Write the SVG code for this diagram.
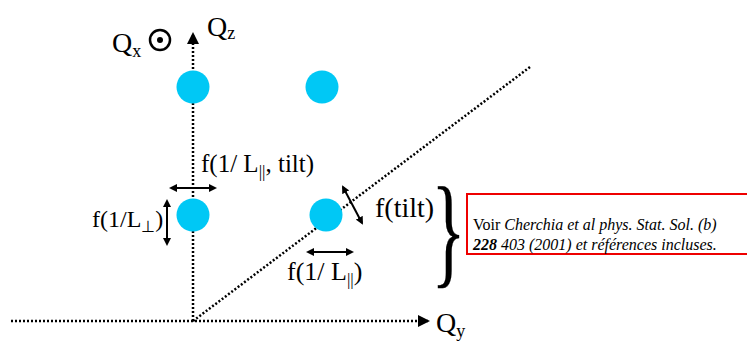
<svg xmlns="http://www.w3.org/2000/svg" width="747" height="341" viewBox="0 0 747 341">
<style>
.ax{stroke:#000;stroke-width:2.5;stroke-dasharray:2 2;fill:none}
.dot{fill:#00c8f5}
.t{font-family:"Liberation Serif","Times New Roman",serif;fill:#000}
.arr{stroke:#000;stroke-width:2;fill:none;marker-start:url(#ah);marker-end:url(#ah)}
</style>
<defs>
<marker id="ah" markerWidth="8" markerHeight="8" refX="6" refY="4" orient="auto-start-reverse" markerUnits="userSpaceOnUse"><path d="M0,0 L8,4 L0,8 z" fill="#000"/></marker>
<marker id="axh" markerWidth="12" markerHeight="12" refX="10" refY="6" orient="auto" markerUnits="userSpaceOnUse"><path d="M0,0 L12,6 L0,12 z" fill="#000"/></marker>
</defs>
<rect width="747" height="341" fill="#fff"/>
<g id="connectors">
<line class="ax" x1="193" y1="321" x2="193" y2="34" marker-end="url(#axh)"/>
<line class="ax" x1="11" y1="321" x2="428" y2="321" marker-end="url(#axh)"/>
<line class="ax" x1="193" y1="321" x2="530" y2="67"/>
<line class="arr" x1="171" y1="188" x2="215" y2="188"/>
<line class="arr" x1="167" y1="201" x2="167" y2="244"/>
<line class="arr" x1="343" y1="187" x2="362" y2="223"/>
<line class="arr" x1="308" y1="252" x2="352" y2="252"/>
</g>
<g id="dots">
<circle class="dot" cx="193" cy="87" r="16.5"/>
<circle class="dot" cx="322" cy="87" r="16.5"/>
<circle class="dot" cx="193" cy="215" r="16.5"/>
<circle class="dot" cx="326" cy="215" r="16.5"/>
</g>
<g id="labels">
<text class="t" font-size="28" x="112" y="52">Q<tspan font-size="18" dy="5">x</tspan></text>
<circle cx="160" cy="40" r="10" fill="none" stroke="#000" stroke-width="2.5"/>
<circle cx="160" cy="40" r="3" fill="#000"/>
<text class="t" font-size="28" x="207" y="36">Q<tspan font-size="18" dy="3">z</tspan></text>
<text class="t" font-size="28" x="436" y="332">Q<tspan font-size="18" dy="5">y</tspan></text>
<text class="t" font-size="25" x="201" y="172">f(1/ L<tspan font-size="17" dy="5">||</tspan><tspan dy="-5">, tilt)</tspan></text>
<text class="t" font-size="24" x="92" y="227">f(1/L<tspan font-size="16" dy="5">⊥</tspan><tspan dy="-5">)</tspan></text>
<text class="t" font-size="28" x="375" y="217">f(tilt)</text>
<text class="t" font-size="26" x="287" y="280">f(1/ L<tspan font-size="17" dy="5">||</tspan><tspan dy="-5">)</tspan></text>
<text class="t" font-size="122" x="744" y="272" stroke="#000" stroke-width="0.3" transform="scale(0.58 1)">}</text>
</g>
<g id="note">
<rect x="467" y="194" width="290" height="60" fill="none" stroke="#e00" stroke-width="2"/>
<text class="t" font-size="16" x="473" y="230">Voir <tspan font-style="italic">Cherchia et al phys. Stat. Sol. (b)</tspan></text>
<text class="t" font-size="16" x="473" y="250"><tspan font-weight="bold" font-style="italic">228</tspan><tspan font-style="italic"> 403 (2001) et références incluses.</tspan></text>
</g>
</svg>
